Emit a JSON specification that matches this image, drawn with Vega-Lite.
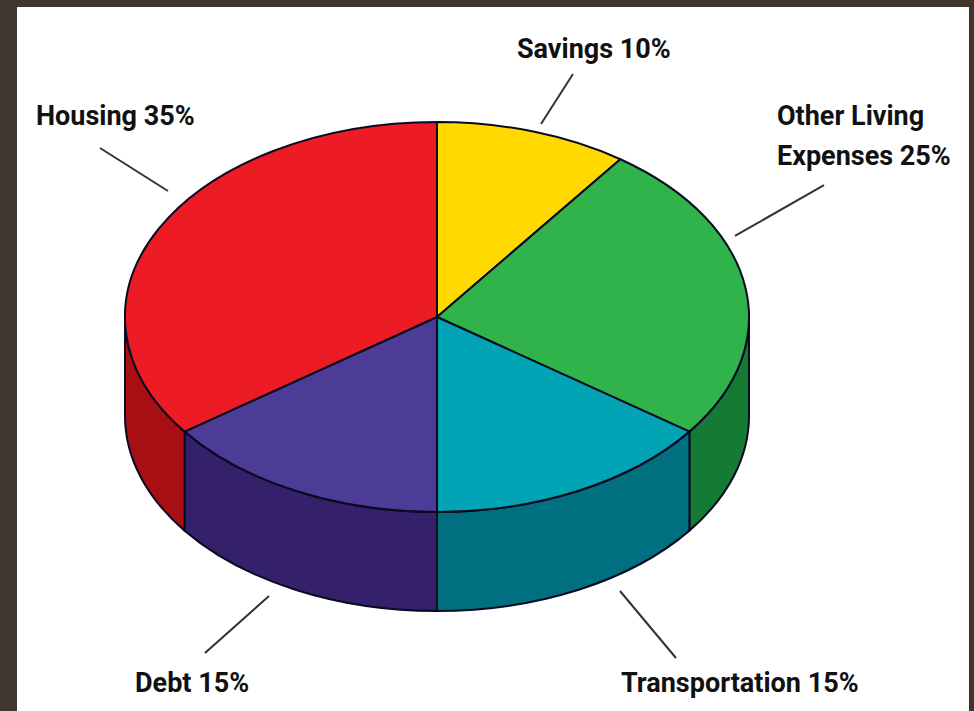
{
  "$schema": "https://vega.github.io/schema/vega-lite/v6.json",
  "width": 974,
  "height": 711,
  "autosize": {"type": "fit", "contains": "padding"},
  "padding": 0,
  "background": "#3f362d",
  "config": {
    "view": {"stroke": null},
    "text": {"align": "left", "baseline": "middle", "font": "Roboto", "fontWeight": "bold", "fontSize": 27, "fill": "#111111"},
    "rule": {"stroke": "#333333", "strokeWidth": 2}
  },
  "datasets": {
    "slices": [
      {"category": "Savings", "share": 10, "label": "Savings 10%"},
      {"category": "Other Living Expenses", "share": 25, "label": "Other Living\nExpenses 25%"},
      {"category": "Transportation", "share": 15, "label": "Transportation 15%"},
      {"category": "Debt", "share": 15, "label": "Debt 15%"},
      {"category": "Housing", "share": 35, "label": "Housing 35%"}
    ]
  },
  "encoding": {
    "x": {"type": "quantitative", "axis": null, "scale": {"domain": [-140.514, 172.669], "nice": false, "zero": false}},
    "y": {"type": "quantitative", "axis": null, "scale": {"domain": [126.688, -101.929], "nice": false, "zero": false}}
  },
  "layer": [
    {
      "data": {"values": [{"panel": "page"}]},
      "mark": {"type": "rect", "fill": "#ffffff"},
      "encoding": {
        "x": {"datum": -135.05, "type": "quantitative"},
        "x2": {"datum": 171.06},
        "y": {"datum": -99.68, "type": "quantitative"},
        "y2": {"datum": 126.688}
      }
    },
    {
      "data": {"name": "slices"},
      "transform": [{"filter": "datum.category !== 'Savings'"}],
      "mark": {"type": "point", "filled": true, "opacity": 1, "stroke": "#0a0a20", "strokeWidth": 2, "strokeJoin": "round"},
      "encoding": {
        "x": {"datum": 0, "type": "quantitative"},
        "y": {"datum": 0, "type": "quantitative"},
        "size": {"value": 389376},
        "shape": {
          "field": "category",
          "type": "nominal",
          "legend": null,
          "scale": {
            "domain": ["Other Living Expenses", "Transportation", "Debt", "Housing"],
            "range": [
              "M.809,.3674 L.809,.6847 A1,.625 0 0 0 1,.3173 L1,0 A1,.625 0 0 1 .809,.3674 Z",
              "M0,.625 L0,.9423 A1,.625 0 0 0 .809,.6847 L.809,.3674 A1,.625 0 0 1 0,.625 Z",
              "M-.809,.3674 L-.809,.6847 A1,.625 0 0 0 0,.9423 L0,.625 A1,.625 0 0 1 -.809,.3674 Z",
              "M-1,0 L-1,.3173 A1,.625 0 0 0 -.809,.6847 L-.809,.3674 A1,.625 0 0 1 -1,0 Z"
            ]
          }
        },
        "color": {
          "field": "category",
          "type": "nominal",
          "legend": null,
          "scale": {
            "domain": ["Other Living Expenses", "Transportation", "Debt", "Housing"],
            "range": ["#157a33", "#006f7f", "#35206b", "#a80f15"]
          }
        }
      }
    },
    {
      "data": {"name": "slices"},
      "mark": {"type": "point", "filled": true, "opacity": 1, "stroke": "#0a0a20", "strokeWidth": 2, "strokeJoin": "round"},
      "encoding": {
        "x": {"datum": 0, "type": "quantitative"},
        "y": {"datum": 0, "type": "quantitative"},
        "size": {"value": 389376},
        "shape": {
          "field": "category",
          "type": "nominal",
          "legend": null,
          "scale": {
            "domain": ["Savings", "Other Living Expenses", "Transportation", "Debt", "Housing"],
            "range": [
              "M0,0 L0,-.625 A1,.625 0 0 1 .5878,-.5056 Z",
              "M0,0 L.5878,-.5056 A1,.625 0 0 1 .809,.3674 Z",
              "M0,0 L.809,.3674 A1,.625 0 0 1 0,.625 Z",
              "M0,0 L0,.625 A1,.625 0 0 1 -.809,.3674 Z",
              "M0,0 L-.809,.3674 A1,.625 0 0 1 0,-.625 Z"
            ]
          }
        },
        "color": {
          "field": "category",
          "type": "nominal",
          "legend": null,
          "scale": {
            "domain": ["Savings", "Other Living Expenses", "Transportation", "Debt", "Housing"],
            "range": ["#ffd900", "#2fb34a", "#00a4b4", "#4c3b97", "#ed1c24"]
          }
        }
      }
    },
    {
      "data": {"name": "slices"},
      "transform": [{"filter": "datum.category === 'Housing'"}],
      "layer": [
        {
          "mark": {"type": "rule"},
          "encoding": {
            "x": {"datum": -108.36, "type": "quantitative"},
            "y": {"datum": -54.34, "type": "quantitative"},
            "x2": {"datum": -86.5},
            "y2": {"datum": -40.51}
          }
        },
        {
          "mark": {"type": "text"},
          "encoding": {
            "x": {"datum": -128.94, "type": "quantitative"},
            "y": {"datum": -64.31, "type": "quantitative"},
            "text": {"field": "label"}
          }
        }
      ]
    },
    {
      "data": {"name": "slices"},
      "transform": [{"filter": "datum.category === 'Savings'"}],
      "layer": [
        {
          "mark": {"type": "rule"},
          "encoding": {
            "x": {"datum": 43.73, "type": "quantitative"},
            "y": {"datum": -78.14, "type": "quantitative"},
            "x2": {"datum": 33.44},
            "y2": {"datum": -62.06}
          }
        },
        {
          "mark": {"type": "text"},
          "encoding": {
            "x": {"datum": 25.72, "type": "quantitative"},
            "y": {"datum": -85.85, "type": "quantitative"},
            "text": {"field": "label"}
          }
        }
      ]
    },
    {
      "data": {"name": "slices"},
      "transform": [{"filter": "datum.category === 'Other Living Expenses'"}],
      "layer": [
        {
          "mark": {"type": "rule"},
          "encoding": {
            "x": {"datum": 124.44, "type": "quantitative"},
            "y": {"datum": -42.44, "type": "quantitative"},
            "x2": {"datum": 95.82},
            "y2": {"datum": -26.05}
          }
        },
        {
          "mark": {"type": "text", "lineBreak": "\n", "lineHeight": 40},
          "encoding": {
            "x": {"datum": 109.32, "type": "quantitative"},
            "y": {"datum": -64.31, "type": "quantitative"},
            "text": {"field": "label"}
          }
        }
      ]
    },
    {
      "data": {"name": "slices"},
      "transform": [{"filter": "datum.category === 'Transportation'"}],
      "layer": [
        {
          "mark": {"type": "rule"},
          "encoding": {
            "x": {"datum": 58.84, "type": "quantitative"},
            "y": {"datum": 88.1, "type": "quantitative"},
            "x2": {"datum": 76.85},
            "y2": {"datum": 109.65}
          }
        },
        {
          "mark": {"type": "text"},
          "encoding": {
            "x": {"datum": 59.16, "type": "quantitative"},
            "y": {"datum": 118, "type": "quantitative"},
            "text": {"field": "label"}
          }
        }
      ]
    },
    {
      "data": {"name": "slices"},
      "transform": [{"filter": "datum.category === 'Debt'"}],
      "layer": [
        {
          "mark": {"type": "rule"},
          "encoding": {
            "x": {"datum": -54.02, "type": "quantitative"},
            "y": {"datum": 89.71, "type": "quantitative"},
            "x2": {"datum": -74.6},
            "y2": {"datum": 108.04}
          }
        },
        {
          "mark": {"type": "text"},
          "encoding": {
            "x": {"datum": -97.1, "type": "quantitative"},
            "y": {"datum": 118, "type": "quantitative"},
            "text": {"field": "label"}
          }
        }
      ]
    }
  ],
  "resolve": {"scale": {"shape": "independent", "color": "independent"}}
}
